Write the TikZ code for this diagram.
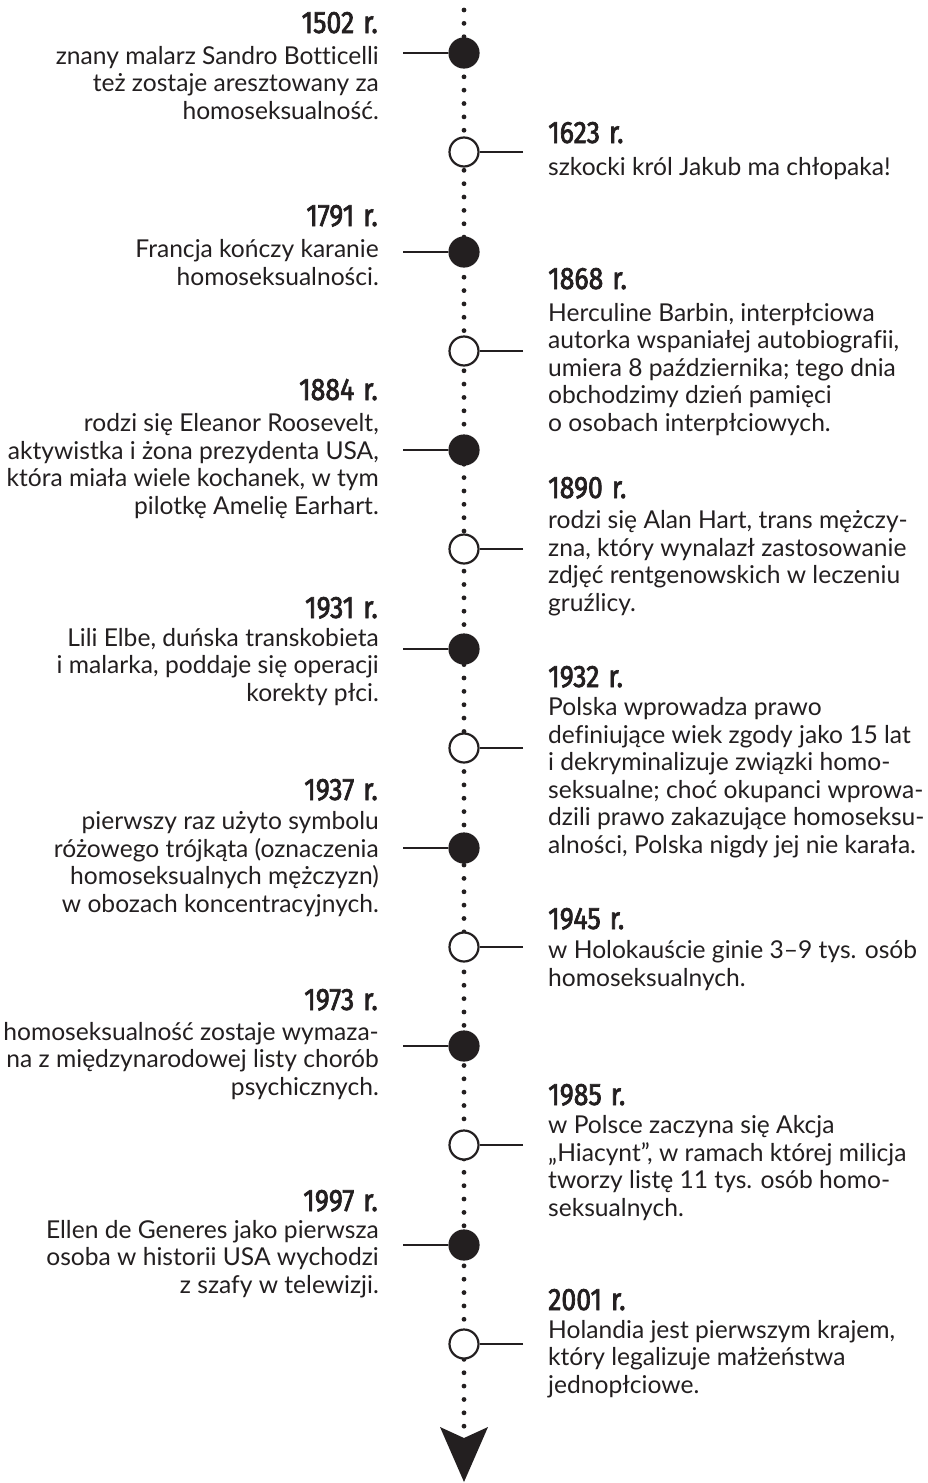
\documentclass[tikz,border=0pt]{standalone}
\usepackage{fontspec}
\setmainfont{Lato}[Ligatures=NoCommon]
\newfontfamily\yearfont{Fira Sans}[FakeStretch=0.86, FakeBold=2.2]
\definecolor{ink}{HTML}{231F20}
\begin{document}
\begin{tikzpicture}[x=1pt,y=-1pt,
  yr/.style={font=\yearfont\fontsize{31}{31}\selectfont, inner sep=0pt, text=ink},
  lyr/.style={yr, anchor=base east},
  ryr/.style={yr, anchor=base west},
  body/.style={font=\fontsize{24.6}{27.5}\selectfont, inner sep=0pt, text=ink},
  lbody/.style={body, align=right, anchor=base east},
  rbody/.style={body, align=left, anchor=base west},
  full/.style={circle, draw=ink, fill=ink, line width=2.2pt, minimum size=29pt, inner sep=0pt},
  hollow/.style={circle, draw=ink, fill=white, line width=2.2pt, minimum size=29pt, inner sep=0pt},
  conn/.style={draw=ink, line width=2.2pt},
  axis/.style={draw=ink, line width=4.8pt, line cap=round, dash pattern=on 0pt off 13.36pt}
]
\useasboundingbox (0,0) rectangle (927,1483);
\fill[white] (0,0) rectangle (927,1483);

% axis
\coordinate (top) at (464,10);
\coordinate (bot) at (464,1426.2);
\draw[axis] (top) -- (bot);
\fill[ink] (440,1427) -- (464,1438) -- (488,1427) -- (464,1482) -- cycle;

% event markers
\node[full]   (e1)  at (464,53)   {};
\node[hollow] (e2)  at (464,152)  {};
\node[full]   (e3)  at (464,252)  {};
\node[hollow] (e4)  at (464,351)  {};
\node[full]   (e5)  at (464,450)  {};
\node[hollow] (e6)  at (464,549)  {};
\node[full]   (e7)  at (464,649)  {};
\node[hollow] (e8)  at (464,748)  {};
\node[full]   (e9)  at (464,848)  {};
\node[hollow] (e10) at (464,947)  {};
\node[full]   (e11) at (464,1046) {};
\node[hollow] (e12) at (464,1145) {};
\node[full]   (e13) at (464,1245) {};
\node[hollow] (e14) at (464,1344) {};

% connector ends
\coordinate (c1)  at (403,53);
\coordinate (c2)  at (523,152);
\coordinate (c3)  at (403,252);
\coordinate (c4)  at (523,351);
\coordinate (c5)  at (403,450);
\coordinate (c6)  at (523,549);
\coordinate (c7)  at (403,649);
\coordinate (c8)  at (523,748);
\coordinate (c9)  at (403,848);
\coordinate (c10) at (523,947);
\coordinate (c11) at (403,1046);
\coordinate (c12) at (523,1145);
\coordinate (c13) at (403,1245);
\coordinate (c14) at (523,1344);
\foreach \i in {1,...,14} { \draw[conn] (c\i) -- (e\i); }

% left texts (body nodes are placed at the baseline of their last line)
\node[lyr] (y1) at (378,33) {1502\hspace{9pt}r.};
\node[lbody] (t1) at (379,119) {znany malarz Sandro Botticelli\\też zostaje aresztowany za\\homoseksualność.};

\node[lyr] (y3) at (378,226) {1791\hspace{9pt}r.};
\node[lbody] (t3) at (379,285) {Francja kończy karanie\\homoseksualności.};

\node[lyr] (y5) at (378,400) {1884\hspace{9pt}r.};
\node[lbody] (t5) at (379,514) {rodzi się Eleanor Roosevelt,\\aktywistka i żona prezydenta USA,\\która miała wiele kochanek, w tym\\pilotkę Amelię Earhart.};

\node[lyr] (y7) at (378,618) {1931\hspace{9pt}r.};
\node[lbody] (t7) at (379,701) {Lili Elbe, duńska transkobieta\\i malarka, poddaje się operacji\\korekty płci.};

\node[lyr] (y9) at (378,800) {1937\hspace{9pt}r.};
\node[lbody] (t9) at (379,912) {pierwszy raz użyto symbolu\\różowego trójkąta (oznaczenia\\homoseksualnych mężczyzn)\\w obozach koncentracyjnych.};

\node[lyr] (y11) at (378,1010) {1973\hspace{9pt}r.};
\node[lbody] (t11) at (379,1095) {homoseksualność zostaje wymaza-\\na z międzynarodowej listy chorób\\psychicznych.};

\node[lyr] (y13) at (378,1211) {1997\hspace{9pt}r.};
\node[lbody] (t13) at (379,1293) {Ellen de Generes jako pierwsza\\osoba w historii USA wychodzi\\z szafy w telewizji.};

% right texts
\node[ryr] (y2) at (548,143) {1623\hspace{9pt}r.};
\node[rbody] (t2) at (548,175) {szkocki król Jakub ma chłopaka!};

\node[ryr] (y4) at (548,289) {1868\hspace{9pt}r.};
\node[rbody] (t4) at (548,431) {Herculine Barbin, interpłciowa\\autorka wspaniałej autobiografii,\\umiera 8 października; tego dnia\\obchodzimy dzień pamięci\\o osobach interpłciowych.};

\node[ryr] (y6) at (548,498) {1890\hspace{9pt}r.};
\node[rbody] (t6) at (548,611) {rodzi się Alan Hart, trans mężczy-\\zna, który wynalazł zastosowanie\\zdjęć rentgenowskich w leczeniu\\gruźlicy.};

\node[ryr] (y8) at (548,687) {1932\hspace{9pt}r.};
\node[rbody] (t8) at (548,853) {Polska wprowadza prawo\\definiujące wiek zgody jako 15 lat\\i dekryminalizuje związki homo-\\seksualne; choć okupanci wprowa-\\dzili prawo zakazujące homoseksu-\\alności, Polska nigdy jej nie karała.};

\node[ryr] (y10) at (548,929) {1945\hspace{9pt}r.};
\node[rbody] (t10) at (548,986) {w Holokauście ginie 3–9 tys. osób\\homoseksualnych.};

\node[ryr] (y12) at (548,1105) {1985\hspace{9pt}r.};
\node[rbody] (t12) at (548,1216) {w Polsce zaczyna się Akcja\\„Hiacynt”, w ramach której milicja\\tworzy listę 11 tys. osób homo-\\seksualnych.};

\node[ryr] (y14) at (548,1310) {2001\hspace{9pt}r.};
\node[rbody] (t14) at (548,1393) {Holandia jest pierwszym krajem,\\który legalizuje małżeństwa\\jednopłciowe.};
\end{tikzpicture}
\end{document}
